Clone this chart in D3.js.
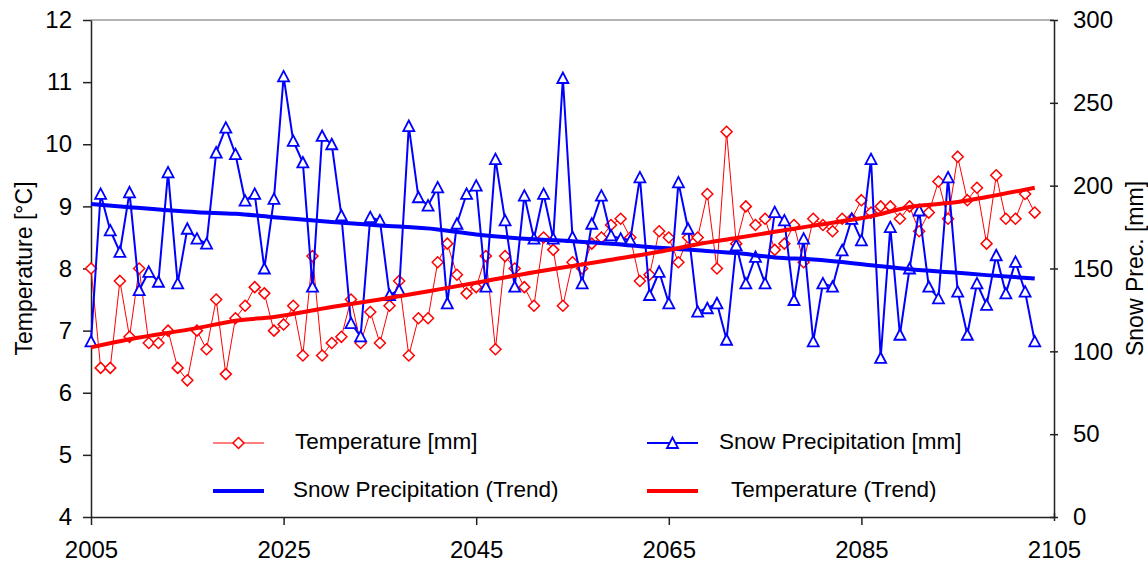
<!DOCTYPE html>
<html>
<head>
<meta charset="utf-8">
<script src="https://cdn.jsdelivr.net/npm/d3@7"></script>
<style>
  body { margin: 0; background: #fff; }
  text { font-family: "Liberation Sans", Arial, sans-serif; fill: #000; }
</style>
</head>
<body>
<script>
// years 2005..2103, one value per year
var years = d3.range(2005, 2104);

var temperature = [
  8.0, 6.4, 6.4, 7.8, 6.9, 8.0, 6.8, 6.8, 7.0, 6.4, 6.2, 7.0, 6.7, 7.5, 6.3, 7.2, 7.4, 7.7, 7.6, 7.0, 7.1, 7.4, 6.6, 8.2, 6.6,
  6.8, 6.9, 7.5, 6.8, 7.3, 6.8, 7.4, 7.8, 6.6, 7.2, 7.2, 8.1, 8.4, 7.9, 7.6, 7.7, 8.2, 6.7, 8.2, 8.0, 7.7, 7.4, 8.5, 8.3, 7.4,
  8.1, 8.0, 8.4, 8.5, 8.7, 8.8, 8.5, 7.8, 7.9, 8.6, 8.5, 8.1, 8.5, 8.5, 9.2, 8.0, 10.2, 8.4, 9.0, 8.7, 8.8, 8.3, 8.4, 8.7, 8.1,
  8.8, 8.7, 8.6, 8.8, 8.8, 9.1, 8.9, 9.0, 9.0, 8.8, 9.0, 8.6, 8.9, 9.4, 8.8, 9.8, 9.1, 9.3, 8.4, 9.5, 8.8, 8.8, 9.2, 8.9
];

var snow = [
  106, 195, 173, 160, 196, 137, 148, 142, 208, 141, 174, 168, 165, 220, 235, 219, 191, 195, 150, 192, 266, 227, 214, 139, 230,
  225, 182, 117, 109, 181, 179, 134, 137, 236, 193, 188, 199, 129, 177, 195, 200, 139, 216, 179, 139, 194, 168, 195, 168, 265,
  169, 141, 177, 194, 170, 168, 167, 205, 134, 148, 129, 202, 174, 124, 126, 129, 107, 164, 141, 157, 141, 184, 179, 131, 168,
  106, 141, 139, 161, 180, 167, 216, 96, 175, 110, 150, 185, 139, 132, 205, 136, 110, 141, 128, 158, 135, 154, 136, 106
];

// trend curves, read at a few years
var trendYears = [2005, 2009, 2016, 2020, 2024, 2030, 2035, 2041, 2045, 2051, 2055, 2059, 2064, 2068, 2072, 2076, 2080, 2086, 2090, 2095, 2098, 2103];
var snowTrend = [189, 187, 184, 183, 181, 178, 176, 173.6, 170.5, 167.7, 166.5, 165, 162.5, 161, 159.3, 156.7, 155.4, 152, 149.6, 147.4, 146, 144];
var tempTrend = [6.73, 6.86, 7.04, 7.16, 7.22, 7.38, 7.50, 7.66, 7.77, 7.94, 8.04, 8.14, 8.27, 8.39, 8.49, 8.59, 8.69, 8.84, 8.99, 9.07, 9.15, 9.30];

var xTicks = [2005, 2025, 2045, 2065, 2085, 2105];
var tempTicks = [4, 5, 6, 7, 8, 9, 10, 11, 12];
var snowTicks = [0, 50, 100, 150, 200, 250, 300];

var width = 1148,
    height = 565;
var plotL = 91, plotR = 1054, plotT = 20, plotB = 517;

var svg = d3.select("body").append("svg")
  .attr("width", width)
  .attr("height", height);

var x = d3.scaleLinear().domain([2005, 2105]).range([plotL, plotR]);
var yT = d3.scaleLinear().domain([4, 12]).range([plotB, plotT]);
var yS = d3.scaleLinear().domain([0, 300]).range([plotB, plotT]);

// frame top line
svg.append("line")
  .attr("x1", plotL).attr("x2", plotR)
  .attr("y1", plotT).attr("y2", plotT)
  .attr("stroke", "#9a9a9a").attr("stroke-width", 1.5);

// axes
var axL = svg.append("g")
  .attr("transform", "translate(" + plotL + ",0)")
  .call(d3.axisLeft(yT).tickValues(tempTicks).tickSize(8).tickSizeOuter(0));
axL.selectAll("text").attr("x", -19).attr("font-size", 24);

var axR = svg.append("g")
  .attr("transform", "translate(" + plotR + ",0)")
  .call(d3.axisRight(yS).tickValues(snowTicks).tickSize(4).tickSizeOuter(0));
axR.selectAll(".tick line").attr("x1", -4).attr("x2", 4);
axR.selectAll("text").attr("x", 19).attr("font-size", 24);

var axB = svg.append("g")
  .attr("transform", "translate(0," + plotB + ")")
  .call(d3.axisBottom(x).tickValues(xTicks).tickFormat(d3.format("d")).tickSize(8).tickSizeOuter(0));
axB.selectAll("text").attr("y", 41).attr("dy", 0).attr("font-size", 24);
axB.selectAll(".tick").filter(function (d) { return d === 2105; })
  .select("line").attr("y1", -4).attr("y2", 4);

svg.selectAll(".domain").attr("stroke", "#222").attr("stroke-width", 1.5);
svg.selectAll(".tick line").attr("stroke", "#222").attr("stroke-width", 1.5);
svg.selectAll(".tick text").attr("font-family", "Liberation Sans, Arial, sans-serif").attr("fill", "#000");

// axis titles
svg.append("text")
  .attr("transform", "translate(32," + (plotT + plotB) / 2 + ") rotate(-90)")
  .attr("text-anchor", "middle")
  .attr("font-size", 23)
  .text("Temperature [°C]");

svg.append("text")
  .attr("transform", "translate(1143," + (plotT + plotB) / 2 + ") rotate(-90)")
  .attr("text-anchor", "middle")
  .attr("font-size", 23)
  .text("Snow Prec. [mm]");

var tempData = years.map(function (y, i) { return { year: y, v: temperature[i] }; });
var snowData = years.map(function (y, i) { return { year: y, v: snow[i] }; });
var tempTrendData = trendYears.map(function (y, i) { return { year: y, v: tempTrend[i] }; });
var snowTrendData = trendYears.map(function (y, i) { return { year: y, v: snowTrend[i] }; });

var diamond = "M0,-5.5L5.5,0L0,5.5L-5.5,0Z";
var triangle = "M0,-5.5L5.5,5L-5.5,5Z";

// Temperature series
svg.append("path")
  .datum(tempData)
  .attr("fill", "none")
  .attr("stroke", "#ff0000")
  .attr("stroke-width", 1)
  .attr("d", d3.line().x(function (d) { return x(d.year); }).y(function (d) { return yT(d.v); }));

svg.selectAll(".tmark")
  .data(tempData)
  .enter().append("path")
  .attr("class", "tmark")
  .attr("d", diamond)
  .attr("transform", function (d) { return "translate(" + x(d.year) + "," + yT(d.v) + ")"; })
  .attr("fill", "#fff")
  .attr("stroke", "#ff0000")
  .attr("stroke-width", 1.5);

// Snow series
svg.append("path")
  .datum(snowData)
  .attr("fill", "none")
  .attr("stroke", "#0000ff")
  .attr("stroke-width", 2)
  .attr("d", d3.line().x(function (d) { return x(d.year); }).y(function (d) { return yS(d.v); }));

svg.selectAll(".smark")
  .data(snowData)
  .enter().append("path")
  .attr("class", "smark")
  .attr("d", triangle)
  .attr("transform", function (d) { return "translate(" + x(d.year) + "," + yS(d.v) + ")"; })
  .attr("fill", "#fff")
  .attr("stroke", "#0000ff")
  .attr("stroke-width", 1.8);

// Trends
svg.append("path")
  .datum(snowTrendData)
  .attr("fill", "none")
  .attr("stroke", "#0000ff")
  .attr("stroke-width", 4)
  .attr("d", d3.line().curve(d3.curveMonotoneX).x(function (d) { return x(d.year); }).y(function (d) { return yS(d.v); }));

svg.append("path")
  .datum(tempTrendData)
  .attr("fill", "none")
  .attr("stroke", "#ff0000")
  .attr("stroke-width", 4)
  .attr("d", d3.line().curve(d3.curveMonotoneX).x(function (d) { return x(d.year); }).y(function (d) { return yT(d.v); }));

// Legend
var legend = [
  { label: "Temperature [mm]", color: "#ff0000", w: 1, mark: diamond, sw: 1.5, lx: 213, tx: 295, y: 443 },
  { label: "Snow Precipitation (Trend)", color: "#0000ff", w: 4, mark: null, lx: 213, tx: 293, y: 491 },
  { label: "Snow Precipitation [mm]", color: "#0000ff", w: 2, mark: triangle, sw: 1.8, lx: 647, tx: 719, y: 443 },
  { label: "Temperature (Trend)", color: "#ff0000", w: 4, mark: null, lx: 647, tx: 731, y: 491 }
];

var lg = svg.selectAll(".legend")
  .data(legend)
  .enter().append("g")
  .attr("class", "legend");

lg.append("line")
  .attr("x1", function (d) { return d.lx; })
  .attr("x2", function (d) { return d.lx + 51; })
  .attr("y1", function (d) { return d.y; })
  .attr("y2", function (d) { return d.y; })
  .attr("stroke", function (d) { return d.color; })
  .attr("stroke-width", function (d) { return d.w; });

lg.filter(function (d) { return d.mark; })
  .append("path")
  .attr("d", function (d) { return d.mark; })
  .attr("transform", function (d) { return "translate(" + (d.lx + 25.5) + "," + d.y + ")"; })
  .attr("fill", "#fff")
  .attr("stroke", function (d) { return d.color; })
  .attr("stroke-width", function (d) { return d.sw; });

lg.append("text")
  .attr("x", function (d) { return d.tx; })
  .attr("y", function (d) { return d.y + 6; })
  .attr("font-size", 22.5)
  .text(function (d) { return d.label; });
</script>
</body>
</html>
